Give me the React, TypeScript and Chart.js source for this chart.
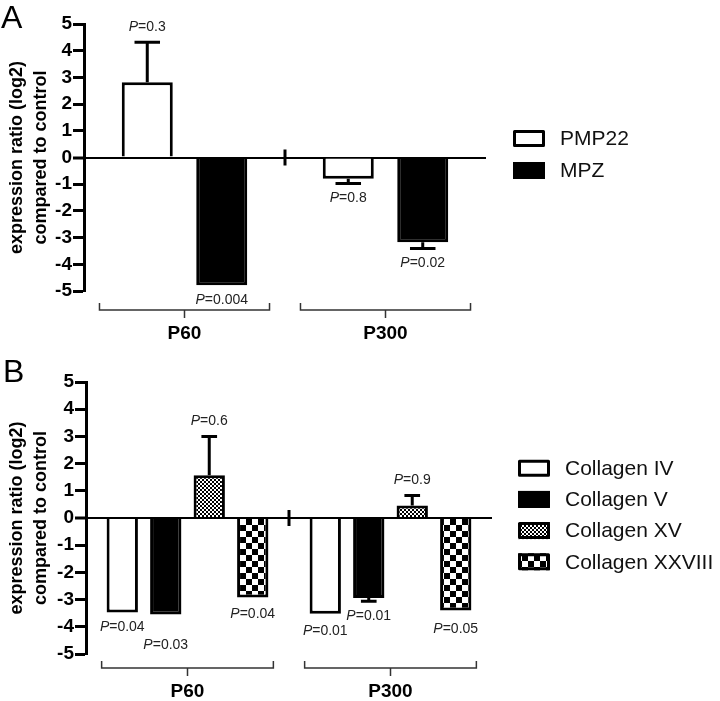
import React, { useEffect, useRef } from "react";
import { Chart, registerables } from "chart.js";

Chart.register(...registerables);

const FONT = "'Liberation Sans', Arial, Helvetica, sans-serif";

// ---- shared axis data ----
const groups = ["P60", "P300"];
const yMin = -5;
const yMax = 5;
const yStep = 1;
const yTitle = ["expression ratio (log2)", "compared to control"];

// ---- panel A ----
const seriesA = ["PMP22", "MPZ"];
const pmp22Values = [2.82, -0.8];
const pmp22Errors = [1.5, 0.17];
const pmp22P = ["0.3", "0.8"];
const mpzValues = [-4.78, -3.17];
const mpzErrors = [0, 0.24];
const mpzP = ["0.004", "0.02"];

// ---- panel B ----
const seriesB = ["Collagen IV", "Collagen V", "Collagen XV", "Collagen XXVIII"];
const col4Values = [-3.47, -3.52];
const col4Errors = [0, 0];
const col4P = ["0.04", "0.01"];
const col5Values = [-3.55, -2.94];
const col5Errors = [0, 0.12];
const col5P = ["0.03", "0.01"];
const col15Values = [1.57, 0.46];
const col15Errors = [1.43, 0.37];
const col15P = ["0.6", "0.9"];
const col28Values = [-2.92, -3.4];
const col28Errors = [0, 0];
const col28P = ["0.04", "0.05"];

function makeChecker(size: number): CanvasPattern | string {
  const c = document.createElement("canvas");
  c.width = size * 2;
  c.height = size * 2;
  const g = c.getContext("2d");
  if (!g) return "#888";
  g.fillStyle = "#fff";
  g.fillRect(0, 0, size * 2, size * 2);
  g.fillStyle = "#000";
  g.fillRect(0, 0, size, size);
  g.fillRect(size, size, size, size);
  const ctx2 = document.createElement("canvas").getContext("2d");
  return (ctx2 && ctx2.createPattern(c, "repeat")) || "#888";
}

function drawP(ctx: CanvasRenderingContext2D, value: string, cx: number, cy: number) {
  ctx.save();
  ctx.fillStyle = "#222";
  ctx.textBaseline = "middle";
  ctx.textAlign = "left";
  ctx.font = `italic 14px ${FONT}`;
  const w1 = ctx.measureText("P").width;
  ctx.font = `14px ${FONT}`;
  const rest = "=" + value;
  const w2 = ctx.measureText(rest).width;
  const x0 = cx - (w1 + w2) / 2;
  ctx.font = `italic 14px ${FONT}`;
  ctx.fillText("P", x0, cy);
  ctx.font = `14px ${FONT}`;
  ctx.fillText(rest, x0 + w1, cy);
  ctx.restore();
}

const decorPlugin = {
  id: "decor",
  beforeDatasetsDraw(chart: any) {
    const ctx = chart.ctx as CanvasRenderingContext2D;
    const xs = chart.scales.x;
    const ys = chart.scales.y;
    // axis break mark on the zero line
    const bx = (xs.getPixelForTick(0) + xs.getPixelForTick(1)) / 2;
    const y0 = ys.getPixelForValue(0);
    ctx.save();
    ctx.strokeStyle = "#000";
    ctx.lineWidth = 3;
    ctx.beginPath();
    ctx.moveTo(bx, y0 - 8);
    ctx.lineTo(bx, y0 + 8);
    ctx.stroke();
    ctx.restore();
  },
  afterDatasetsDraw(chart: any, _args: any, opts: any) {
    const ctx = chart.ctx as CanvasRenderingContext2D;
    const ys = chart.scales.y;
    const errors: number[][] = opts.errors;
    const pvals: string[][] = opts.pvals;
    const shifts: number[][] = opts.shifts;
    chart.data.datasets.forEach((ds: any, di: number) => {
      const meta = chart.getDatasetMeta(di);
      meta.data.forEach((bar: any, i: number) => {
        const v = ds.data[i] as number;
        const e = errors[di][i];
        const sign = v >= 0 ? 1 : -1;
        const end = v + sign * e;
        const py0 = ys.getPixelForValue(v);
        const py1 = ys.getPixelForValue(end);
        if (e > 0) {
          ctx.save();
          ctx.strokeStyle = "#000";
          ctx.lineWidth = 3;
          ctx.beginPath();
          ctx.moveTo(bar.x, py0);
          ctx.lineTo(bar.x, py1);
          const half = bar.width * 0.25;
          ctx.moveTo(bar.x - half, py1);
          ctx.lineTo(bar.x + half, py1);
          ctx.stroke();
          ctx.restore();
        }
        const off = 15 + (shifts ? shifts[di][i] : 0);
        drawP(ctx, pvals[di][i], bar.x, py1 - sign * off);
      });
    });
  },
  afterDraw(chart: any, _args: any, opts: any) {
    const ctx = chart.ctx as CanvasRenderingContext2D;
    const xs = chart.scales.x;
    const area = chart.chartArea;
    // brackets under groups
    const catW = xs.width / chart.data.labels.length;
    const half = catW * 0.423;
    const yb = area.bottom + opts.bracketGap;
    ctx.save();
    ctx.strokeStyle = "#333";
    ctx.lineWidth = 1.5;
    chart.data.labels.forEach((_l: string, i: number) => {
      const cx = xs.getPixelForTick(i);
      ctx.beginPath();
      ctx.moveTo(cx - half, yb - 7);
      ctx.lineTo(cx - half, yb);
      ctx.lineTo(cx + half, yb);
      ctx.lineTo(cx + half, yb - 7);
      ctx.moveTo(cx, yb);
      ctx.lineTo(cx, yb + 8);
      ctx.stroke();
    });
    ctx.restore();

    // panel letter
    ctx.save();
    ctx.fillStyle = "#000";
    ctx.font = `32px ${FONT}`;
    ctx.textBaseline = "alphabetic";
    ctx.textAlign = "left";
    ctx.fillText(opts.letter, opts.letterX, opts.letterY);
    ctx.restore();

    // legend
    const n = chart.data.datasets.length;
    const spacing = opts.legendSpacing;
    const midY = (area.top + area.bottom) / 2 - 3;
    const boxX = area.right + opts.legendGap;
    ctx.save();
    chart.data.datasets.forEach((ds: any, di: number) => {
      const cy = midY + (di - (n - 1) / 2) * spacing;
      const by = cy - 8.5;
      ctx.fillStyle = ds.backgroundColor;
      ctx.fillRect(boxX, by, 32, 17);
      ctx.strokeStyle = "#000";
      ctx.lineWidth = 3;
      ctx.lineJoin = "round";
      ctx.strokeRect(boxX + 1.5, by + 1.5, 29, 14);
      ctx.fillStyle = "#111";
      ctx.font = `21px ${FONT}`;
      ctx.textBaseline = "middle";
      ctx.textAlign = "left";
      ctx.fillText(ds.label, boxX + 47, cy + 1);
    });
    ctx.restore();
  },
};

type PanelProps = {
  top: number;
  height: number;
  datasets: any[];
  errors: number[][];
  pvals: string[][];
  shifts: number[][];
  yWidth: number;
  padTop: number;
  padRight: number;
  xHeight: number;
  xPad: number;
  catPct: number;
  barPct: number;
  bracketGap: number;
  letter: string;
  letterX: number;
  letterY: number;
  legendGap: number;
  legendSpacing: number;
};

function Panel(p: PanelProps) {
  const ref = useRef<HTMLCanvasElement | null>(null);
  useEffect(() => {
    if (!ref.current) return;
    const chart = new Chart(ref.current, {
      type: "bar",
      data: { labels: groups, datasets: p.datasets },
      plugins: [decorPlugin as any],
      options: {
        responsive: false,
        animation: false,
        devicePixelRatio: 1,
        layout: { padding: { left: 0, top: p.padTop, right: p.padRight, bottom: 0 } },
        datasets: {
          bar: {
            categoryPercentage: p.catPct,
            barPercentage: p.barPct,
            borderColor: "#000",
            borderWidth: 3,
            borderSkipped: "start",
          },
        },
        scales: {
          x: {
            type: "category",
            grid: { display: false, drawTicks: false },
            border: { display: false },
            ticks: {
              color: "#000",
              padding: p.xPad,
              font: { family: FONT, size: 19, weight: "bold" },
            },
            afterFit: (s: any) => {
              s.height = p.xHeight;
            },
          },
          y: {
            min: yMin,
            max: yMax,
            ticks: {
              stepSize: yStep,
              color: "#000",
              padding: 1,
              font: { family: FONT, size: 19, weight: "bold" },
            },
            border: { display: true, color: "#000", width: 3 },
            grid: {
              drawOnChartArea: true,
              drawTicks: true,
              color: (c: any) => (c.tick && c.tick.value === 0 ? "#000" : "rgba(0,0,0,0)"),
              lineWidth: (c: any) => (c.tick && c.tick.value === 0 ? 2 : 1),
              tickColor: "#000",
              tickWidth: 3,
              tickLength: 11,
            },
            title: {
              display: true,
              text: yTitle,
              color: "#000",
              font: { family: FONT, size: 18, weight: "bold", lineHeight: 1.28 },
              padding: { top: 6, bottom: 0 },
            },
            afterFit: (s: any) => {
              s.width = p.yWidth;
            },
          },
        },
        plugins: {
          legend: { display: false },
          tooltip: { enabled: false },
          decor: {
            errors: p.errors,
            pvals: p.pvals,
            shifts: p.shifts,
            bracketGap: p.bracketGap,
            letter: p.letter,
            letterX: p.letterX,
            letterY: p.letterY,
            legendGap: p.legendGap,
            legendSpacing: p.legendSpacing,
          },
        } as any,
      } as any,
    });
    return () => chart.destroy();
  }, []);
  return (
    <div style={{ position: "absolute", left: 0, top: p.top, width: 720, height: p.height }}>
      <canvas ref={ref} width={720} height={p.height} style={{ display: "block" }} />
    </div>
  );
}

export default function App() {
  const fine = makeChecker(2);
  const coarse = makeChecker(6);
  const datasetsA = [
    { label: seriesA[0], data: pmp22Values, backgroundColor: "#fff" },
    { label: seriesA[1], data: mpzValues, backgroundColor: "#000" },
  ];
  const datasetsB = [
    { label: seriesB[0], data: col4Values, backgroundColor: "#fff" },
    { label: seriesB[1], data: col5Values, backgroundColor: "#000" },
    { label: seriesB[2], data: col15Values, backgroundColor: fine },
    { label: seriesB[3], data: col28Values, backgroundColor: coarse },
  ];
  return (
    <div style={{ position: "absolute", left: 0, top: 0, width: 720, height: 701, background: "#fff" }}>
      <Panel
        top={0}
        height={345}
        datasets={datasetsA}
        errors={[pmp22Errors, mpzErrors]}
        pvals={[pmp22P, mpzP]}
        shifts={[[0, 0], [0, 0]]}
        yWidth={84}
        padTop={24}
        padRight={234}
        xHeight={54}
        xPad={31}
        catPct={0.741}
        barPct={0.685}
        bracketGap={19}
        letter="A"
        letterX={1}
        letterY={28}
        legendGap={27}
        legendSpacing={32}
      />
      <Panel
        top={345}
        height={356}
        datasets={datasetsB}
        errors={[col4Errors, col5Errors, col15Errors, col28Errors]}
        pvals={[col4P, col5P, col15P, col28P]}
        shifts={[[0, 2], [16, 0], [0, 0], [2, 4]]}
        yWidth={86}
        padTop={37}
        padRight={228}
        xHeight={47}
        xPad={26}
        catPct={0.857}
        barPct={0.72}
        bracketGap={14}
        letter="B"
        letterX={3}
        letterY={37}
        legendGap={26}
        legendSpacing={31.2}
      />
    </div>
  );
}
